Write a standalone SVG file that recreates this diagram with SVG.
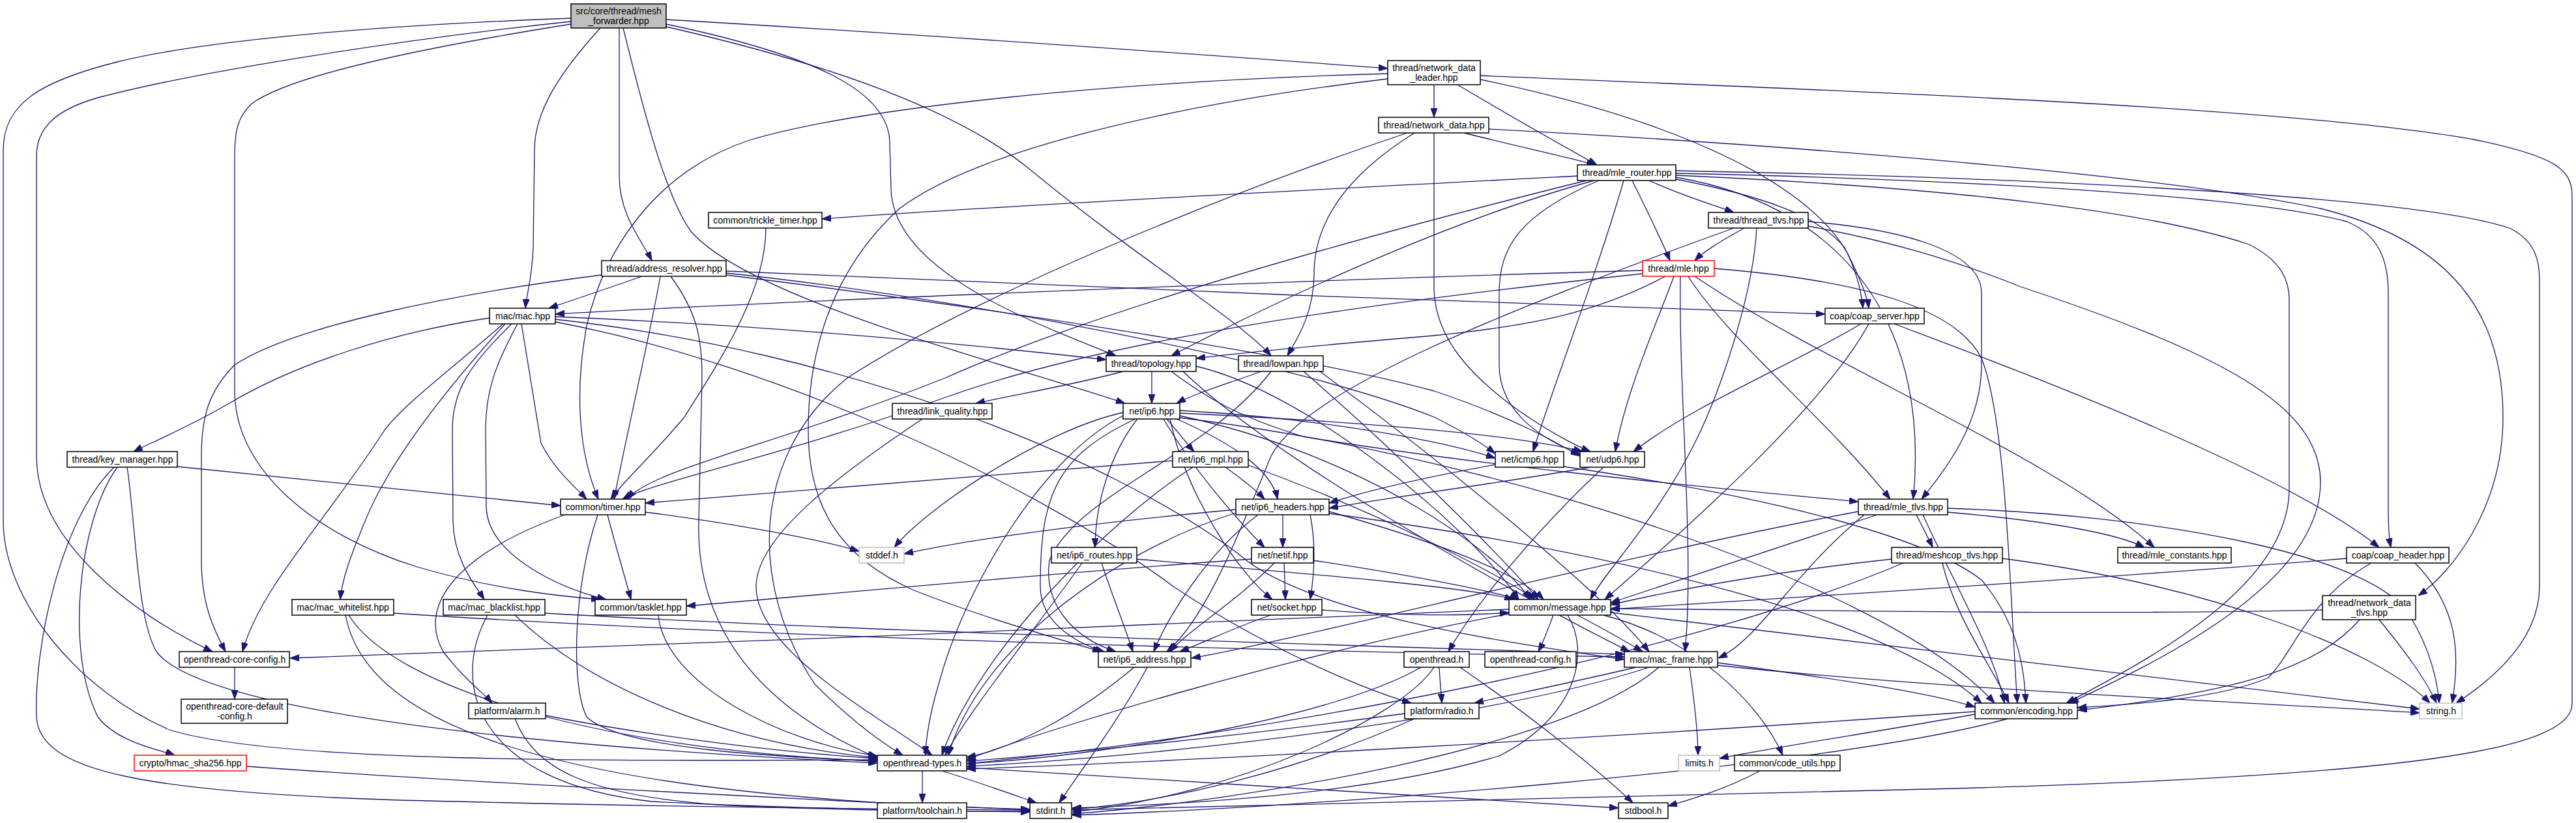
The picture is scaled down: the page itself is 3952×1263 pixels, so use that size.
<svg xmlns="http://www.w3.org/2000/svg" width="3952" height="1263" viewBox="0 0 3952 1263">
<defs>
<style>
.n rect{fill:#fff;stroke:#000;stroke-width:1.5}
.n.g rect{stroke:#bfbfbf}
.n.r rect{stroke:#ff0000}
.n.m rect{fill:#bfbfbf}
.n text{font-family:"Liberation Sans",Arial,Helvetica,sans-serif;font-size:14px;text-anchor:middle;fill:#000}
#edges path{fill:none;stroke:#191970;stroke-width:1.3;marker-end:url(#ah)}
</style>
<marker id="ah" viewBox="0 0 14 10" refX="14" refY="5" markerWidth="14" markerHeight="10" markerUnits="userSpaceOnUse" orient="auto"><path d="M0,0L14,5L0,10z" fill="#191970" stroke="#191970" stroke-width="1"/></marker>
</defs>
<rect width="3952" height="1263" fill="#fff"/>
<g id="edges">
<path d="M876,28 C600,38 320,60 180,95 C60,125 5,160 5,230 L5,800 C5,920 120,1060 260,1120 C420,1170 900,1168 1346,1166"/>
<path d="M876,33 C620,60 300,110 150,150 C80,170 56,200 56,240 L56,700 C56,830 200,940 326,1000"/>
<path d="M876,37 C700,65 450,110 385,160 C365,180 360,200 360,240 L360,600 C360,720 480,820 640,870 C760,905 860,915 921,920"/>
<path d="M921,43 C860,110 820,170 820,230 L818,380 C816,430 808,450 806,473"/>
<path d="M950,43 L950,270 C950,330 985,370 1000,400"/>
<path d="M956,43 C985,160 1020,300 1060,355 C1150,460 1550,560 1726,619"/>
<path d="M1022,30 C1500,58 1900,88 2129,105"/>
<path d="M1022,37 C1250,85 1365,140 1365,220 L1367,290 C1370,420 1600,500 1712,546"/>
<path d="M1022,41 C1280,100 1470,170 1580,260 C1750,400 1900,490 1950,546"/>
<path d="M2200,130 L2200,180"/>
<path d="M2236,130 C2320,180 2400,225 2450,253"/>
<path d="M2271,122 C2600,190 2780,290 2835,390 C2855,430 2865,455 2867,473"/>
<path d="M2129,113 C1700,125 1320,165 1150,215 C1000,265 925,390 900,500 C880,610 890,700 918,766"/>
<path d="M2129,121 C1800,160 1500,230 1380,320 C1270,420 1240,550 1240,660 C1240,790 1300,860 1400,905 C1500,945 1620,980 1690,1000"/>
<path d="M2271,116 C2700,135 3500,160 3800,215 C3920,240 3946,260 3946,300 L3946,1080 C3946,1150 3700,1190 3000,1210 C2400,1225 1900,1235 1645,1243"/>
<path d="M2246,204 C2330,225 2400,240 2448,253"/>
<path d="M2284,198 C2700,220 3300,265 3560,320 C3760,370 3840,480 3840,640 C3840,780 3760,880 3710,914"/>
<path d="M2170,204 C2080,260 2016,330 2016,420 C2016,480 1990,520 1975,546"/>
<path d="M2200,204 L2200,440 C2200,520 2260,580 2330,630 C2380,665 2420,685 2440,693"/>
<path d="M2159,204 C1900,290 1500,450 1300,580 C1150,700 1150,900 1250,1050 C1320,1120 1370,1150 1385,1159"/>
<path d="M2420,270 C2000,292 1500,318 1261,336"/>
<path d="M2530,277 C2580,300 2630,315 2660,326"/>
<path d="M2504,277 C2530,330 2550,370 2562,400"/>
<path d="M2571,275 C2700,300 2790,330 2830,380 C2850,420 2856,450 2858,473"/>
<path d="M2571,266 C3000,275 3450,300 3600,340 C3650,360 3664,400 3664,450 L3664,780 C3664,810 3666,830 3668,840"/>
<path d="M2571,262 C3100,272 3700,300 3850,350 C3890,370 3896,400 3896,430 L3896,900 C3896,985 3820,1045 3768,1079"/>
<path d="M2571,269 C3000,288 3300,325 3450,375 C3500,400 3512,430 3512,460 L3512,750 C3512,900 3300,1010 3170,1079"/>
<path d="M2446,277 C2250,330 2000,440 1797,546"/>
<path d="M2434,277 C2100,360 1700,470 1450,580 C1200,680 1000,720 962,766"/>
<path d="M2491,277 C2450,420 2380,600 2352,693"/>
<path d="M2453,277 C2330,330 2300,380 2300,450 L2300,560 C2300,640 2380,680 2424,697"/>
<path d="M2571,272 C2850,320 2960,520 2935,766"/>
<path d="M2676,350 C2640,370 2615,385 2600,400"/>
<path d="M2660,350 C2300,480 2000,600 1950,700 C1900,820 1850,950 1790,1000"/>
<path d="M2695,350 C2690,450 2640,600 2600,680 C2540,800 2460,880 2440,920"/>
<path d="M2774,347 C2900,370 3000,400 3100,440 C3400,540 3560,620 3560,740 C3560,900 3300,1020 3175,1079"/>
<path d="M2774,340 C2900,350 3040,380 3040,450 L3040,560 C3040,650 2985,720 2948,766"/>
<path d="M985,424 C940,440 880,460 842,473"/>
<path d="M923,422 C700,450 450,500 360,560 C320,600 309,640 309,700 L309,860 C309,930 330,970 346,1000"/>
<path d="M1114,416 C1600,440 2300,465 2800,482"/>
<path d="M1114,419 C1500,460 2000,560 2200,640 C2250,665 2280,685 2294,696"/>
<path d="M1114,422 C1500,470 2000,545 2200,600 C2320,640 2390,680 2424,700"/>
<path d="M1013,424 C1000,500 965,650 942,766"/>
<path d="M1029,424 C1070,480 1077,520 1077,580 L1072,800 C1068,950 1150,1080 1346,1163"/>
<path d="M2520,415 C2000,430 1200,462 852,482"/>
<path d="M2555,424 C2450,480 2350,500 2200,515 C2000,532 1900,542 1835,550"/>
<path d="M2520,420 C2100,465 1700,520 1450,610 C1200,700 1000,740 955,766"/>
<path d="M2568,424 C2540,500 2495,600 2478,693"/>
<path d="M2578,424 C2575,600 2600,850 2585,1000"/>
<path d="M2590,424 C2650,520 2800,640 2900,766"/>
<path d="M2600,424 C2800,560 3150,700 3305,840"/>
<path d="M2630,412 C2850,430 3000,470 3040,550 C3080,650 3085,950 3095,1079"/>
<path d="M2855,497 C2750,560 2600,620 2506,693"/>
<path d="M2867,497 C2800,620 2600,800 2462,920"/>
<path d="M2906,497 C3100,570 3500,720 3650,840"/>
<path d="M1723,570 C1650,590 1560,605 1497,619"/>
<path d="M1767,570 L1767,619"/>
<path d="M1797,570 C1850,610 1900,640 2000,670 C2300,720 2700,755 2851,770"/>
<path d="M1835,562 C2000,600 2250,800 2330,920"/>
<path d="M1815,570 C1950,700 2300,900 2500,1000"/>
<path d="M1935,570 C1880,590 1830,605 1805,619"/>
<path d="M2000,570 C2150,700 2300,850 2360,920"/>
<path d="M2025,570 C2200,700 2450,900 2530,1000"/>
<path d="M1950,570 C1850,700 1650,760 1610,860 C1600,930 1650,980 1712,1000"/>
<path d="M1415,643 C1300,720 1160,820 1160,900 C1160,1000 1350,1100 1430,1159"/>
<path d="M1790,643 C1805,660 1820,680 1832,693"/>
<path d="M1805,643 C1890,680 1950,720 1960,766"/>
<path d="M1745,643 C1700,700 1680,780 1680,840"/>
<path d="M1785,643 C1830,720 1900,800 1940,840"/>
<path d="M1795,643 C1820,760 1900,880 1952,920"/>
<path d="M1810,630 C2000,640 2200,672 2294,703"/>
<path d="M1810,634 C2100,648 2330,668 2428,693"/>
<path d="M1742,643 C1620,700 1596,760 1596,900 C1596,960 1660,990 1694,1000"/>
<path d="M1810,638 C2100,700 2300,850 2348,920"/>
<path d="M1723,633 C1600,660 1420,780 1372,840"/>
<path d="M1723,638 C1600,700 1480,900 1440,1050 C1425,1100 1420,1140 1420,1159"/>
<path d="M1810,641 C2300,700 2900,900 3060,1079"/>
<path d="M272,716 C500,740 700,760 860,776"/>
<path d="M180,717 C120,800 100,1000 150,1100 C180,1140 250,1152 268,1159"/>
<path d="M195,717 C208,800 210,950 240,1000 C300,1080 700,1140 1346,1171"/>
<path d="M175,717 C90,800 52,1000 56,1100 C60,1180 200,1220 700,1230 C1100,1240 1400,1242 1580,1243"/>
<path d="M1799,707 C1500,730 1200,755 990,772"/>
<path d="M1880,717 C1905,735 1925,750 1940,766"/>
<path d="M1830,717 C1700,800 1500,1000 1445,1159"/>
<path d="M1915,714 C2100,780 2300,880 2355,920"/>
<path d="M2294,713 C2200,730 2100,752 2039,772"/>
<path d="M2399,716 C2700,760 2950,820 3040,890 C3090,950 3105,1010 3108,1079"/>
<path d="M2440,717 C2300,742 2150,760 2039,780"/>
<path d="M2460,717 C2350,820 2262,930 2222,1000"/>
<path d="M867,790 C700,850 640,930 680,1000 C710,1040 740,1062 755,1079"/>
<path d="M917,790 C880,900 875,1050 900,1100 C950,1150 1200,1162 1346,1168"/>
<path d="M932,790 C945,840 960,890 968,920"/>
<path d="M990,786 C1100,800 1250,825 1318,846"/>
<path d="M1175,350 C1175,450 1100,560 1050,640 C1000,700 955,740 937,766"/>
<path d="M1896,782 C1700,800 1500,825 1387,850"/>
<path d="M1968,790 L1968,840"/>
<path d="M1930,790 C1850,850 1790,950 1770,1000"/>
<path d="M1896,787 C1700,850 1500,1000 1455,1159"/>
<path d="M2039,785 C2200,830 2330,880 2368,920"/>
<path d="M2010,790 C2020,840 2015,890 2010,920"/>
<path d="M2039,788 C2500,850 2900,950 3040,1079"/>
<path d="M1690,864 C1705,910 1725,960 1738,1000"/>
<path d="M1660,864 C1600,950 1480,1100 1450,1159"/>
<path d="M1744,858 C2000,880 2250,900 2322,920"/>
<path d="M1920,858 C1600,880 1300,910 1053,930"/>
<path d="M1955,864 C1900,920 1820,970 1795,1000"/>
<path d="M1970,864 L1972,920"/>
<path d="M2015,860 C2150,880 2280,905 2330,920"/>
<path d="M1950,944 C1900,960 1850,985 1810,1000"/>
<path d="M2028,936 C2150,945 2250,945 2315,940"/>
<path d="M2902,858 C2700,880 2550,910 2471,928"/>
<path d="M2980,864 C3000,950 3060,1030 3082,1079"/>
<path d="M3072,857 C3400,900 3650,1000 3728,1079"/>
<path d="M2920,864 C2600,1000 2000,1120 1483,1172"/>
<path d="M2940,790 C2950,810 2958,825 2965,840"/>
<path d="M2988,786 C3150,800 3250,820 3290,840"/>
<path d="M2880,790 C2700,850 2550,900 2471,925"/>
<path d="M2950,790 C3000,900 3060,1000 3075,1079"/>
<path d="M2988,780 C3300,790 3650,850 3700,950 C3730,1000 3740,1050 3742,1079"/>
<path d="M2860,790 C2750,880 2700,980 2636,1010"/>
<path d="M2851,785 C2500,850 2000,980 1828,1010"/>
<path d="M3600,857 C3200,890 2700,920 2471,935"/>
<path d="M3638,864 C3540,920 3520,1000 3480,1040 C3400,1075 3250,1082 3187,1086"/>
<path d="M3705,864 C3770,930 3775,1000 3762,1079"/>
<path d="M3563,936 C3200,945 2700,935 2471,934"/>
<path d="M3620,951 C3560,1020 3450,1060 3188,1090"/>
<path d="M3650,951 C3690,1000 3720,1040 3738,1079"/>
<path d="M2383,944 C2375,965 2368,985 2360,1000"/>
<path d="M2420,944 C2460,965 2495,985 2520,1000"/>
<path d="M2460,944 C2600,980 2700,1080 2735,1159"/>
<path d="M2315,942 C2000,1000 1600,1120 1483,1166"/>
<path d="M2405,944 C2440,1000 2420,1100 2300,1160 C2100,1220 1800,1235 1645,1240"/>
<path d="M2471,940 C3000,1000 3500,1060 3712,1088"/>
<path d="M2315,935 C1800,960 1000,990 445,1010"/>
<path d="M2208,1024 C2209,1045 2211,1062 2212,1079"/>
<path d="M2180,1024 C2050,1100 1700,1160 1483,1172"/>
<path d="M2240,1024 C2350,1100 2450,1180 2505,1232"/>
<path d="M2200,1024 C2150,1100 1900,1220 1645,1246"/>
<path d="M2510,1024 C2400,1050 2300,1070 2262,1079"/>
<path d="M2592,1024 C2600,1080 2605,1130 2605,1159"/>
<path d="M2635,1017 C2800,1040 2950,1060 3030,1085"/>
<path d="M2635,1021 C3000,1060 3500,1080 3712,1094"/>
<path d="M2530,1024 C2300,1100 1800,1160 1483,1176"/>
<path d="M2545,1024 C2400,1150 1900,1230 1645,1249"/>
<path d="M2155,1095 C1900,1130 1600,1160 1483,1168"/>
<path d="M2170,1103 C2000,1180 1800,1230 1645,1242"/>
<path d="M3080,1103 C2800,1180 2000,1240 1645,1251"/>
<path d="M3030,1096 C2900,1120 2700,1150 2638,1164"/>
<path d="M3030,1092 C2500,1130 1800,1170 1483,1180"/>
<path d="M2700,1183 C2650,1210 2600,1225 2559,1237"/>
<path d="M1415,1183 L1415,1232"/>
<path d="M1445,1183 C1500,1200 1550,1218 1590,1232"/>
<path d="M1483,1178 C1800,1200 2200,1220 2483,1240"/>
<path d="M1760,1024 C1720,1100 1660,1180 1625,1232"/>
<path d="M1740,1024 C1650,1100 1550,1150 1483,1162"/>
<path d="M837,1098 C1000,1130 1200,1155 1346,1164"/>
<path d="M790,1103 C820,1180 900,1220 1100,1235 C1300,1245 1500,1245 1580,1245"/>
<path d="M535,944 C600,1050 900,1150 1346,1168"/>
<path d="M530,944 C560,1100 800,1220 1580,1242"/>
<path d="M604,941 C1200,980 2000,1000 2492,1008"/>
<path d="M790,944 C900,1050 1100,1140 1346,1163"/>
<path d="M748,944 C690,1050 730,1200 1000,1230 C1200,1240 1450,1245 1580,1246"/>
<path d="M836,941 C1300,968 2000,988 2492,1004"/>
<path d="M1010,944 C1020,1050 1200,1140 1346,1160"/>
<path d="M360,1024 L360,1073"/>
<path d="M378,1176 C700,1200 1300,1230 1580,1243"/>
<path d="M772,497 C700,560 620,620 590,660 C500,800 400,900 372,1000"/>
<path d="M751,488 C600,510 450,560 350,620 C280,660 230,680 205,693"/>
<path d="M775,497 C700,580 600,700 560,800 C535,860 525,890 522,920"/>
<path d="M785,497 C720,560 694,600 694,660 L695,800 C696,860 730,900 743,920"/>
<path d="M794,497 C760,560 745,600 745,660 L746,780 C750,850 850,900 930,920"/>
<path d="M800,497 C810,560 820,620 830,680 C850,720 880,745 900,766"/>
<path d="M852,486 C1200,500 1500,530 1697,552"/>
<path d="M852,490 C1300,540 1700,700 1900,850 C2000,940 2300,985 2492,1012"/>
<path d="M852,494 C1200,560 1600,750 1800,900 C1950,1000 2100,1060 2165,1079"/>
</g>
<g id="n_main" class="n m"><rect x="876" y="6" width="146" height="37"/><text x="949" y="22">src/core/thread/mesh</text><text x="949" y="37">_forwarder.hpp</text></g>
<g id="n_leader" class="n"><rect x="2129" y="93" width="142" height="37"/><text x="2200" y="109">thread/network_data</text><text x="2200" y="124">_leader.hpp</text></g>
<g id="n_network_data" class="n"><rect x="2115" y="180" width="169" height="24"/><text x="2200" y="197">thread/network_data.hpp</text></g>
<g id="n_mle_router" class="n"><rect x="2420" y="253" width="151" height="24"/><text x="2496" y="270">thread/mle_router.hpp</text></g>
<g id="n_trickle" class="n"><rect x="1087" y="326" width="174" height="24"/><text x="1174" y="343">common/trickle_timer.hpp</text></g>
<g id="n_thread_tlvs" class="n"><rect x="2621" y="326" width="153" height="24"/><text x="2698" y="343">thread/thread_tlvs.hpp</text></g>
<g id="n_addr_res" class="n"><rect x="923" y="400" width="191" height="24"/><text x="1019" y="417">thread/address_resolver.hpp</text></g>
<g id="n_mle" class="n r"><rect x="2520" y="400" width="110" height="24"/><text x="2575" y="417">thread/mle.hpp</text></g>
<g id="n_mac" class="n"><rect x="751" y="473" width="101" height="24"/><text x="802" y="490">mac/mac.hpp</text></g>
<g id="n_coap_server" class="n"><rect x="2800" y="473" width="152" height="24"/><text x="2876" y="490">coap/coap_server.hpp</text></g>
<g id="n_topology" class="n"><rect x="1697" y="546" width="138" height="24"/><text x="1766" y="563">thread/topology.hpp</text></g>
<g id="n_lowpan" class="n"><rect x="1900" y="546" width="130" height="24"/><text x="1965" y="563">thread/lowpan.hpp</text></g>
<g id="n_link_quality" class="n"><rect x="1369" y="619" width="153" height="24"/><text x="1446" y="636">thread/link_quality.hpp</text></g>
<g id="n_ip6" class="n"><rect x="1723" y="619" width="87" height="24"/><text x="1767" y="636">net/ip6.hpp</text></g>
<g id="n_key_manager" class="n"><rect x="103" y="693" width="169" height="24"/><text x="188" y="710">thread/key_manager.hpp</text></g>
<g id="n_ip6_mpl" class="n"><rect x="1799" y="693" width="116" height="24"/><text x="1857" y="710">net/ip6_mpl.hpp</text></g>
<g id="n_icmp6" class="n"><rect x="2294" y="693" width="105" height="24"/><text x="2347" y="710">net/icmp6.hpp</text></g>
<g id="n_udp6" class="n"><rect x="2424" y="693" width="99" height="24"/><text x="2474" y="710">net/udp6.hpp</text></g>
<g id="n_timer" class="n"><rect x="860" y="766" width="130" height="24"/><text x="925" y="783">common/timer.hpp</text></g>
<g id="n_ip6_headers" class="n"><rect x="1896" y="766" width="143" height="24"/><text x="1968" y="783">net/ip6_headers.hpp</text></g>
<g id="n_mle_tlvs" class="n"><rect x="2851" y="766" width="137" height="24"/><text x="2920" y="783">thread/mle_tlvs.hpp</text></g>
<g id="n_stddef" class="n g"><rect x="1318" y="840" width="69" height="24"/><text x="1353" y="857">stddef.h</text></g>
<g id="n_ip6_routes" class="n"><rect x="1613" y="840" width="131" height="24"/><text x="1679" y="857">net/ip6_routes.hpp</text></g>
<g id="n_netif" class="n"><rect x="1920" y="840" width="95" height="24"/><text x="1968" y="857">net/netif.hpp</text></g>
<g id="n_meshcop_tlvs" class="n"><rect x="2902" y="840" width="170" height="24"/><text x="2987" y="857">thread/meshcop_tlvs.hpp</text></g>
<g id="n_mle_constants" class="n"><rect x="3249" y="840" width="174" height="24"/><text x="3336" y="857">thread/mle_constants.hpp</text></g>
<g id="n_coap_header" class="n"><rect x="3600" y="840" width="157" height="24"/><text x="3679" y="857">coap/coap_header.hpp</text></g>
<g id="n_whitelist" class="n"><rect x="448" y="920" width="156" height="24"/><text x="526" y="937">mac/mac_whitelist.hpp</text></g>
<g id="n_blacklist" class="n"><rect x="680" y="920" width="156" height="24"/><text x="758" y="937">mac/mac_blacklist.hpp</text></g>
<g id="n_tasklet" class="n"><rect x="913" y="920" width="140" height="24"/><text x="983" y="937">common/tasklet.hpp</text></g>
<g id="n_socket" class="n"><rect x="1920" y="920" width="108" height="24"/><text x="1974" y="937">net/socket.hpp</text></g>
<g id="n_message" class="n"><rect x="2315" y="920" width="156" height="24"/><text x="2393" y="937">common/message.hpp</text></g>
<g id="n_nd_tlvs" class="n"><rect x="3563" y="914" width="143" height="37"/><text x="3635" y="930">thread/network_data</text><text x="3635" y="945">_tlvs.hpp</text></g>
<g id="n_core_config" class="n"><rect x="275" y="1000" width="169" height="24"/><text x="360" y="1017">openthread-core-config.h</text></g>
<g id="n_ip6_address" class="n"><rect x="1685" y="1000" width="142" height="24"/><text x="1756" y="1017">net/ip6_address.hpp</text></g>
<g id="n_openthread_h" class="n"><rect x="2154" y="1000" width="100" height="24"/><text x="2204" y="1017">openthread.h</text></g>
<g id="n_ot_config" class="n"><rect x="2278" y="1000" width="140" height="24"/><text x="2348" y="1017">openthread-config.h</text></g>
<g id="n_mac_frame" class="n"><rect x="2492" y="1000" width="143" height="24"/><text x="2564" y="1017">mac/mac_frame.hpp</text></g>
<g id="n_default_config" class="n"><rect x="278" y="1073" width="163" height="37"/><text x="360" y="1089">openthread-core-default</text><text x="360" y="1104">-config.h</text></g>
<g id="n_alarm" class="n"><rect x="719" y="1079" width="118" height="24"/><text x="778" y="1096">platform/alarm.h</text></g>
<g id="n_radio" class="n"><rect x="2155" y="1079" width="114" height="24"/><text x="2212" y="1096">platform/radio.h</text></g>
<g id="n_encoding" class="n"><rect x="3030" y="1079" width="157" height="24"/><text x="3109" y="1096">common/encoding.hpp</text></g>
<g id="n_string_h" class="n g"><rect x="3712" y="1079" width="65" height="24"/><text x="3745" y="1096">string.h</text></g>
<g id="n_hmac" class="n r"><rect x="206" y="1159" width="172" height="24"/><text x="292" y="1176">crypto/hmac_sha256.hpp</text></g>
<g id="n_types" class="n"><rect x="1346" y="1159" width="137" height="24"/><text x="1415" y="1176">openthread-types.h</text></g>
<g id="n_limits" class="n g"><rect x="2575" y="1159" width="63" height="24"/><text x="2607" y="1176">limits.h</text></g>
<g id="n_code_utils" class="n"><rect x="2661" y="1159" width="162" height="24"/><text x="2742" y="1176">common/code_utils.hpp</text></g>
<g id="n_toolchain" class="n"><rect x="1346" y="1232" width="137" height="24"/><text x="1415" y="1249">platform/toolchain.h</text></g>
<g id="n_stdint" class="n"><rect x="1580" y="1232" width="64" height="24"/><text x="1612" y="1249">stdint.h</text></g>
<g id="n_stdbool" class="n"><rect x="2483" y="1232" width="76" height="24"/><text x="2521" y="1249">stdbool.h</text></g>
</svg>
